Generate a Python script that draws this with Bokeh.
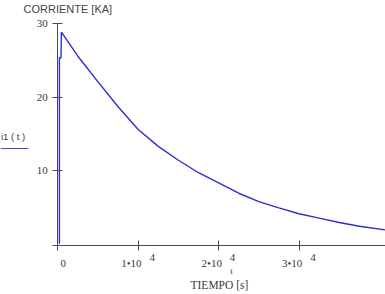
from bokeh.plotting import figure
from bokeh.models import Label, Range1d, FixedTicker, LinearAxis
from bokeh.embed import file_html
from bokeh.resources import INLINE

# ---- data ----
t_s = [200, 200, 400, 450, 2500, 5000, 7500, 10000, 12500, 15000, 17500, 20000,
       22500, 25000, 27500, 30000, 32500, 35000, 37500, 40700]
i_ka = [0.0, 25.4, 25.4, 28.9, 25.6, 22.1, 18.7, 15.6, 13.3, 11.4, 9.7, 8.3,
        6.9, 5.75, 4.9, 4.1, 3.5, 2.9, 2.4, 1.9]
x_ticks = [0, 10000, 20000, 30000]
x_tick_labels = ["0", "1•10", "2•10", "3•10"]
x_tick_exps = ["", "4", "4", "4"]
y_ticks = [10, 20, 30]
title_text = "CORRIENTE [KA]"
x_title = "TIEMPO [s]"
x_var = "t"
y_var = "i1 ( t )"

# ---- layout (pixel geometry of the reference) ----
W, H = 385, 294
PX0, PXK = 57.3, 80.4 / 10000.0      # pixel of t=0, pixels per second
PY0, PYK = 243.3, 7.327               # pixel of i=0, pixels per kA
XS, XE = -PX0 / PXK, (W - PX0) / PXK
YS, YE = -(H - PY0) / PYK, PY0 / PYK
AX_X0 = (52 - PX0) / PXK              # left end of the time axis line
AX_Y0 = -(245 - PY0) / PYK            # level of the time axis line

def dx(px):
    return (px - PX0) / PXK

def dy(py):
    return (PY0 - py) / PYK

p = figure(width=W, height=H, output_backend="svg", toolbar_location=None,
           x_range=Range1d(XS, XE), y_range=Range1d(YS, YE),
           x_axis_location=None, y_axis_location=None, min_border=0)
p.outline_line_color = None
p.xgrid.visible = False
p.ygrid.visible = False
p.background_fill_color = "white"
p.border_fill_color = "white"

axis_col = "#4a4a4a"
lab_col = "#3a3a3a"
nb = "\u00a0"

xax = LinearAxis(ticker=FixedTicker(ticks=x_ticks), fixed_location=AX_Y0,
                 bounds=(AX_X0, XE))
xax.major_label_overrides = {
    v: (nb * 4 + s if v == 0 else s + nb * 5) for v, s in zip(x_ticks, x_tick_labels)
}
yax = LinearAxis(ticker=FixedTicker(ticks=y_ticks), fixed_location=0,
                 bounds=(AX_Y0, max(y_ticks)))
for ax in (xax, yax):
    ax.axis_line_color = axis_col
    ax.axis_line_width = 1
    ax.major_tick_line_color = axis_col
    ax.major_tick_in = 5
    ax.major_tick_out = 5
    ax.minor_tick_line_color = None
    ax.major_label_text_font = "Liberation Serif"
    ax.major_label_text_font_size = "11px"
    ax.major_label_text_color = lab_col
xax.major_label_standoff = 6
yax.major_label_standoff = 5
p.add_layout(xax, "below")
p.add_layout(yax, "left")

p.line(t_s, i_ka, line_color="#2c2cd2", line_width=1.4)

# superscript exponents of the x tick labels
for v, e in zip(x_ticks, x_tick_exps):
    if e:
        p.add_layout(Label(x=v, y=dy(257), x_offset=14, text=e,
                           text_font="Liberation Serif", text_font_size="11px",
                           text_color=lab_col, text_align="center",
                           text_baseline="middle"))

p.add_layout(Label(x=dx(23), y=dy(8.5), text=title_text,
                   text_font="Liberation Sans", text_font_size="11px",
                   text_color="#444444", text_align="left", text_baseline="middle"))
p.add_layout(Label(x=dx(190), y=dy(284), text=x_title,
                   text_font="Liberation Serif", text_font_size="11.5px",
                   text_color=lab_col, text_align="left", text_baseline="middle"))
p.add_layout(Label(x=dx(231), y=dy(270), text=x_var,
                   text_font="Liberation Serif", text_font_size="9px",
                   text_color=lab_col, text_align="center", text_baseline="middle"))
p.add_layout(Label(x=dx(0.5), y=dy(136), text=y_var,
                   text_font="Liberation Sans", text_font_size="9.5px",
                   text_color=lab_col, text_align="left", text_baseline="middle"))
# trace marker line under the y variable name
p.segment(x0=[dx(0)], y0=[dy(148)], x1=[dx(28)], y1=[dy(148)],
          line_color="#4848d8", line_width=1)

open("out.html", "w").write(file_html(p, INLINE))
